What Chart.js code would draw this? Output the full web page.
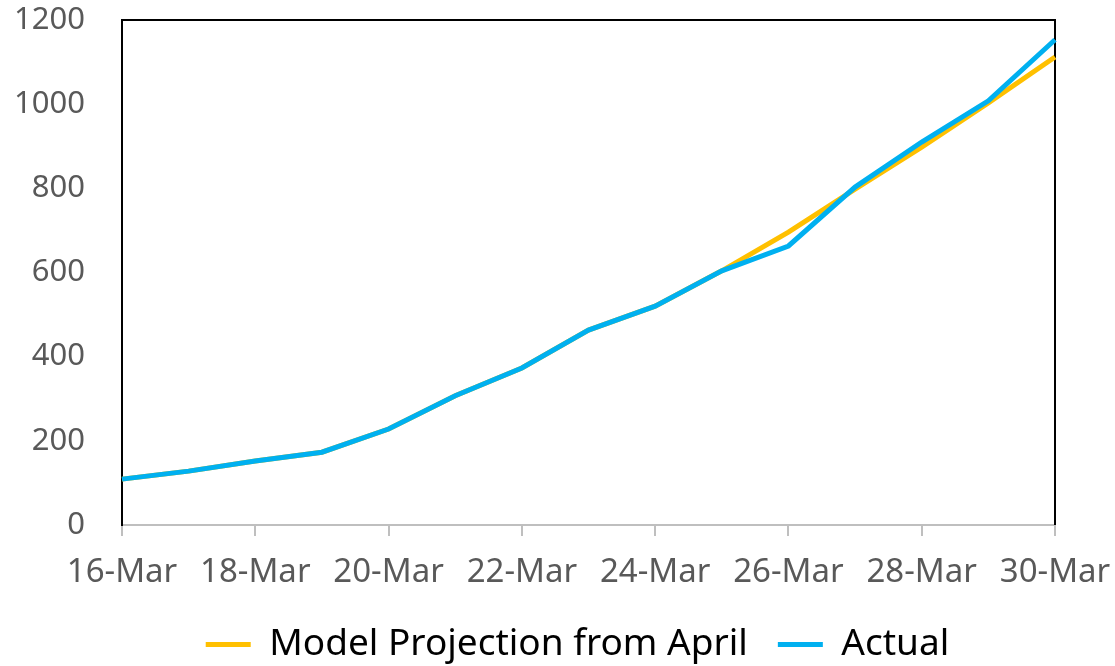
<!DOCTYPE html>
<html>
<head>
<meta charset="utf-8">
<script src="https://cdn.jsdelivr.net/npm/chart.js@4"></script>
<style>
  html, body { margin: 0; padding: 0; background: #fff; }
  #wrap { width: 1115px; height: 666px; position: relative; }
</style>
</head>
<body>
<div id="wrap"><canvas id="chart"></canvas></div>
<script>
const days = ['16-Mar', '17-Mar', '18-Mar', '19-Mar', '20-Mar', '21-Mar', '22-Mar', '23-Mar',
              '24-Mar', '25-Mar', '26-Mar', '27-Mar', '28-Mar', '29-Mar', '30-Mar'];
const modelProjection = [109, 128, 152, 173, 228, 307, 373, 463, 520, 604, 696, 798, 898, 1003, 1112];
const actual = [109, 128, 152, 173, 228, 307, 373, 463, 520, 604, 663, 803, 910, 1008, 1153];
const yTicks = [0, 200, 400, 600, 800, 1000, 1200];

// black frame on top / right of the plot area
const framePlugin = {
    id: 'frame',
    beforeDatasetsDraw(chart) {
        const { ctx, chartArea: a } = chart;
        ctx.save();
        ctx.strokeStyle = '#000';
        ctx.lineWidth = 2;
        ctx.beginPath();
        ctx.moveTo(a.left, a.top);
        ctx.lineTo(a.right, a.top);
        ctx.lineTo(a.right, a.bottom);
        ctx.stroke();
        ctx.restore();
    }
};

// nudge the legend a little right and down, like the original
const legendShift = {
    id: 'legendShift',
    afterLayout(chart) {
        const lg = chart.legend;
        if (!lg) return;
        lg.left += 15; lg.right += 15;
        lg.top += 7; lg.bottom += 7;
    }
};

const ctx = document.getElementById('chart').getContext('2d');
new Chart(ctx, {
    type: 'line',
    data: {
        labels: days,
        datasets: [{
            label: 'Model Projection from April',
            data: modelProjection,
            borderColor: '#FFC000',
            backgroundColor: '#FFC000',
            borderWidth: 5,
            pointRadius: 0,
            tension: 0,
            order: 1
        }, {
            label: 'Actual',
            data: actual,
            borderColor: '#00B0F0',
            backgroundColor: '#00B0F0',
            borderWidth: 5,
            pointRadius: 0,
            tension: 0,
            order: 0
        }]
    },
    options: {
        responsive: true,
        maintainAspectRatio: false,
        animation: false,
        layout: { padding: { left: 10, right: 0, top: 0, bottom: 0 } },
        plugins: {
            legend: {
                position: 'bottom',
                labels: {
                    sort: (a, b) => a.datasetIndex - b.datasetIndex,
                    usePointStyle: true,
                    pointStyle: 'line',
                    pointStyleWidth: 45,
                    boxHeight: 30,
                    padding: 30,
                    color: '#000',
                    font: { family: 'Noto Sans', size: 37 }
                }
            },
            tooltip: { enabled: false }
        },
        scales: {
            x: {
                offset: false,
                afterFit: (scale) => {
                    scale.height = 64;
                    scale.paddingLeft = 0;
                    scale.paddingRight = 60;
                },
                grid: {
                    display: true,
                    drawOnChartArea: false,
                    drawTicks: true,
                    tickLength: 11,
                    color: '#bfbfbf',
                    lineWidth: 2
                },
                border: { display: true, color: '#bfbfbf', width: 2 },
                ticks: {
                    autoSkip: false,
                    maxRotation: 0,
                    padding: 17,
                    color: '#595959',
                    font: { family: 'Noto Sans', size: 33, lineHeight: 1.2 },
                    callback: function (v, i) { return i % 2 === 0 ? days[i] : null; }
                }
            },
            y: {
                min: 0,
                max: 1200,
                afterBuildTicks: (scale) => { scale.ticks = yTicks.map(v => ({ value: v })); },
                afterFit: (scale) => {
                    scale.width = 112;
                    scale.paddingTop = 20;
                    scale.paddingBottom = 0;
                },
                grid: { display: false, drawTicks: false },
                border: { display: true, color: '#000', width: 2 },
                ticks: {
                    padding: 37,
                    color: '#595959',
                    font: { family: 'Noto Sans', size: 31 },
                    callback: (v) => String(v)
                }
            }
        }
    },
    plugins: [framePlugin, legendShift]
});
</script>
</body>
</html>
